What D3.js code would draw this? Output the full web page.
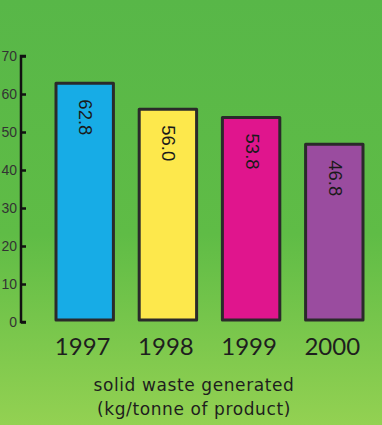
<!DOCTYPE html>
<html>
<head>
<meta charset="utf-8">
<script src="https://cdn.jsdelivr.net/npm/d3@7"></script>
<style>
  body { margin: 0; }
  svg { display: block; }
</style>
</head>
<body>
<div id="chart"></div>
<script>
const years = ["1997", "1998", "1999", "2000"];
const waste = [62.8, 56.0, 53.8, 46.8];
const barColors = ["#17ace6", "#fde84c", "#e0158d", "#9a4c9f"];
const yTicks = [0, 10, 20, 30, 40, 50, 60, 70];

const width = 382, height = 425;
const svg = d3.select("#chart").append("svg")
    .attr("width", width)
    .attr("height", height);

// green background
const grad = svg.append("defs").append("linearGradient")
    .attr("id", "bg").attr("x1", 0).attr("y1", 0).attr("x2", 0).attr("y2", 1);
grad.append("stop").attr("offset", "0%").attr("stop-color", "#58b748");
grad.append("stop").attr("offset", "55%").attr("stop-color", "#5fbc46");
grad.append("stop").attr("offset", "100%").attr("stop-color", "#93d152");
svg.append("rect").attr("width", width).attr("height", height).attr("fill", "url(#bg)");

const y = d3.scaleLinear().domain([0, 70]).range([322, 56]);
const x = d3.scaleBand().domain(years).range([56, 363]).paddingInner(0.31).paddingOuter(0);

// axis
const axis = svg.append("g").attr("transform", "translate(21,0)")
    .call(d3.axisRight(y).tickValues(yTicks).tickSize(5).tickFormat(""));
axis.select(".domain").attr("stroke", "#111").attr("stroke-width", 2.5)
    .attr("d", `M5,${y(70)}H0V${y(0)}H5`);
axis.selectAll(".tick line").attr("stroke", "#111").attr("stroke-width", 2.5);

svg.append("g").selectAll("text")
    .data(yTicks)
    .enter().append("text")
    .attr("x", 17)
    .attr("y", d => y(d))
    .attr("dy", "0.36em")
    .attr("text-anchor", "end")
    .attr("font-family", "Liberation Sans, Arial, sans-serif")
    .attr("font-size", 14)
    .attr("fill", "#333")
    .text(d => d);

// bars
svg.append("g").selectAll("rect")
    .data(waste)
    .enter().append("rect")
    .attr("x", (d, i) => x(years[i]))
    .attr("y", d => y(d))
    .attr("width", x.bandwidth())
    .attr("height", d => y(0) - 2 - y(d))
    .attr("fill", (d, i) => barColors[i])
    .attr("stroke", "#2a2a2a")
    .attr("stroke-width", 3)
    .attr("stroke-linejoin", "round");

// values, rotated
svg.append("g").selectAll("text")
    .data(waste)
    .enter().append("text")
    .attr("transform", (d, i) => `translate(${x(years[i]) + x.bandwidth() / 2 + 1},${y(d) + 16}) rotate(90)`)
    .attr("dy", "0.35em")
    .attr("font-family", "Liberation Sans, Arial, sans-serif")
    .attr("font-size", 18.5)
    .attr("fill", "#1a1a1a")
    .text(d => d.toFixed(1));

// year labels
svg.append("g").selectAll("text")
    .data(years)
    .enter().append("text")
    .attr("x", d => x(d) + x.bandwidth() / 2 - 2)
    .attr("y", 355)
    .attr("text-anchor", "middle")
    .attr("font-family", "Liberation Sans Narrow, Lato, sans-serif")
    .attr("font-size", 24)
    .attr("fill", "#1e1e1e")
    .text(d => d);

// caption
const caption = ["solid waste generated", "(kg/tonne of product)"];
svg.append("g").selectAll("text")
    .data(caption)
    .enter().append("text")
    .attr("x", 194)
    .attr("y", (d, i) => 391 + i * 24)
    .attr("text-anchor", "middle")
    .attr("font-family", "DejaVu Sans, sans-serif")
    .attr("font-size", 17)
    .attr("letter-spacing", 0.6)
    .attr("fill", "#1e1e1e")
    .text(d => d);
</script>
</body>
</html>
